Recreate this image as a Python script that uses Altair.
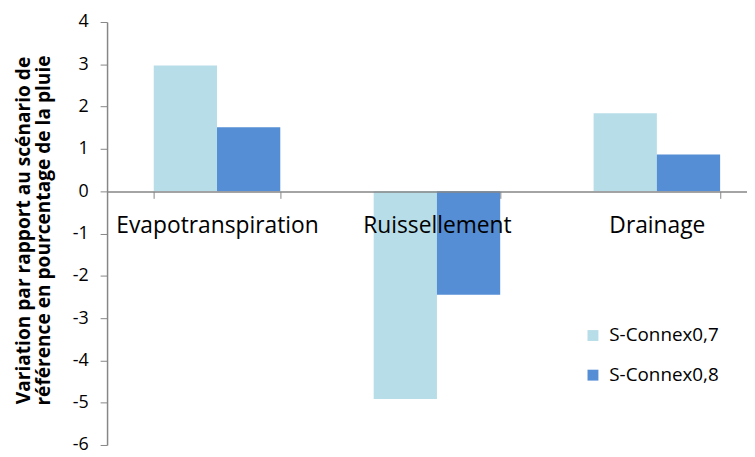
import altair as alt
import pandas as pd

categories = ["Evapotranspiration", "Ruissellement", "Drainage"]
series = ["S-Connex0,7", "S-Connex0,8"]
values_07 = [2.97, -4.91, 1.84]
values_08 = [1.51, -2.45, 0.87]
colors = ["#B7DDE8", "#558ED5"]
y_ticks = list(range(-6, 5))
y_title = ["Variation par rapport au scénario de", "référence en pourcentage de la pluie"]

rows = []
for c, a, b in zip(categories, values_07, values_08):
    rows.append({"cat": c, "series": series[0], "value": a})
    rows.append({"cat": c, "series": series[1], "value": b})
df = pd.DataFrame(rows)

font = "Open Sans"
gray = "#868686"

chart = alt.Chart(df).mark_bar().encode(
    x=alt.X(
        "cat:N",
        sort=categories,
        scale=alt.Scale(paddingInner=0.4247, paddingOuter=0.2123),
        axis=alt.Axis(
            title=None, orient="bottom", offset=-256, tickBand="extent",
            domainColor=gray, tickColor=gray, tickSize=7, domainWidth=1.5,
            labelFontSize=23, labelColor="#000000", labelFont=font,
            labelPadding=16, labelAngle=0, labelLimit=500, zindex=1,
        ),
    ),
    xOffset=alt.XOffset("series:N", sort=series, scale=alt.Scale(paddingInner=0, paddingOuter=0)),
    y=alt.Y(
        "value:Q",
        scale=alt.Scale(domain=[-6, 4], nice=False, zero=False),
        axis=alt.Axis(
            values=y_ticks, title=y_title, grid=False,
            labelExpr="'' + datum.value",
            domainColor=gray, tickColor=gray, tickSize=7, domainWidth=1.5,
            labelFontSize=18, labelColor="#000000", labelFont=font, labelPadding=12,
            titleFont=font, titleFontSize=19.3, titleFontWeight="bold", titleColor="#000000",
            titleX=-93, titleY=210, titleAngle=-90, titleBaseline="top", titleAlign="center",
            titleLineHeight=20,
        ),
    ),
    color=alt.Color(
        "series:N", sort=series,
        scale=alt.Scale(domain=series, range=colors),
        legend=alt.Legend(
            orient="none", legendX=481, legendY=307, title=None,
            symbolType="square", symbolSize=121, symbolStrokeWidth=0,
            labelFontSize=19, labelFont=font, labelColor="#000000",
            rowPadding=20, padding=0, labelOffset=7,
        ),
    ),
).properties(
    width=666, height=427,
    autosize=alt.AutoSizeParams(type="none"),
    padding={"left": 100, "top": 12, "right": -20, "bottom": 10},
).configure_view(stroke=None)

chart.save("out.html", embed_options={"renderer": "svg", "actions": False})
